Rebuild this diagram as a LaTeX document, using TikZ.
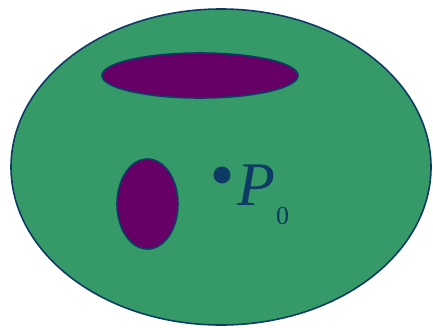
\documentclass[tikz,border=0pt]{standalone}
\usepackage{fontspec}
\setmainfont{Liberation Serif}
\definecolor{bg}{HTML}{359A68}
\definecolor{pu}{HTML}{660066}
\definecolor{nv}{HTML}{0D3B66}
\begin{document}
\begin{tikzpicture}[x=1pt,y=-1pt,
  region/.style={draw=nv,line width=1.6pt}]
\useasboundingbox (0,0) rectangle (433,327);
\fill[white] (0,0) rectangle (433,327);
\path[region,fill=bg] (221,167) ellipse [x radius=210, y radius=158];
\path[region,fill=pu] (200,75.5) ellipse [x radius=98, y radius=22.5];
\path[region,fill=pu] (147.5,204) ellipse [x radius=30.5, y radius=45];
\fill[nv] (222,175) circle [radius=8.5];
\node[anchor=base west,inner sep=0,text=nv,font=\fontsize{62}{62}\selectfont\itshape] (p) at (237,205) {P};
\node[anchor=base west,inner sep=0,text=nv,font=\fontsize{26}{26}\selectfont] (s) at (276,224) {0};
\end{tikzpicture}
\end{document}
